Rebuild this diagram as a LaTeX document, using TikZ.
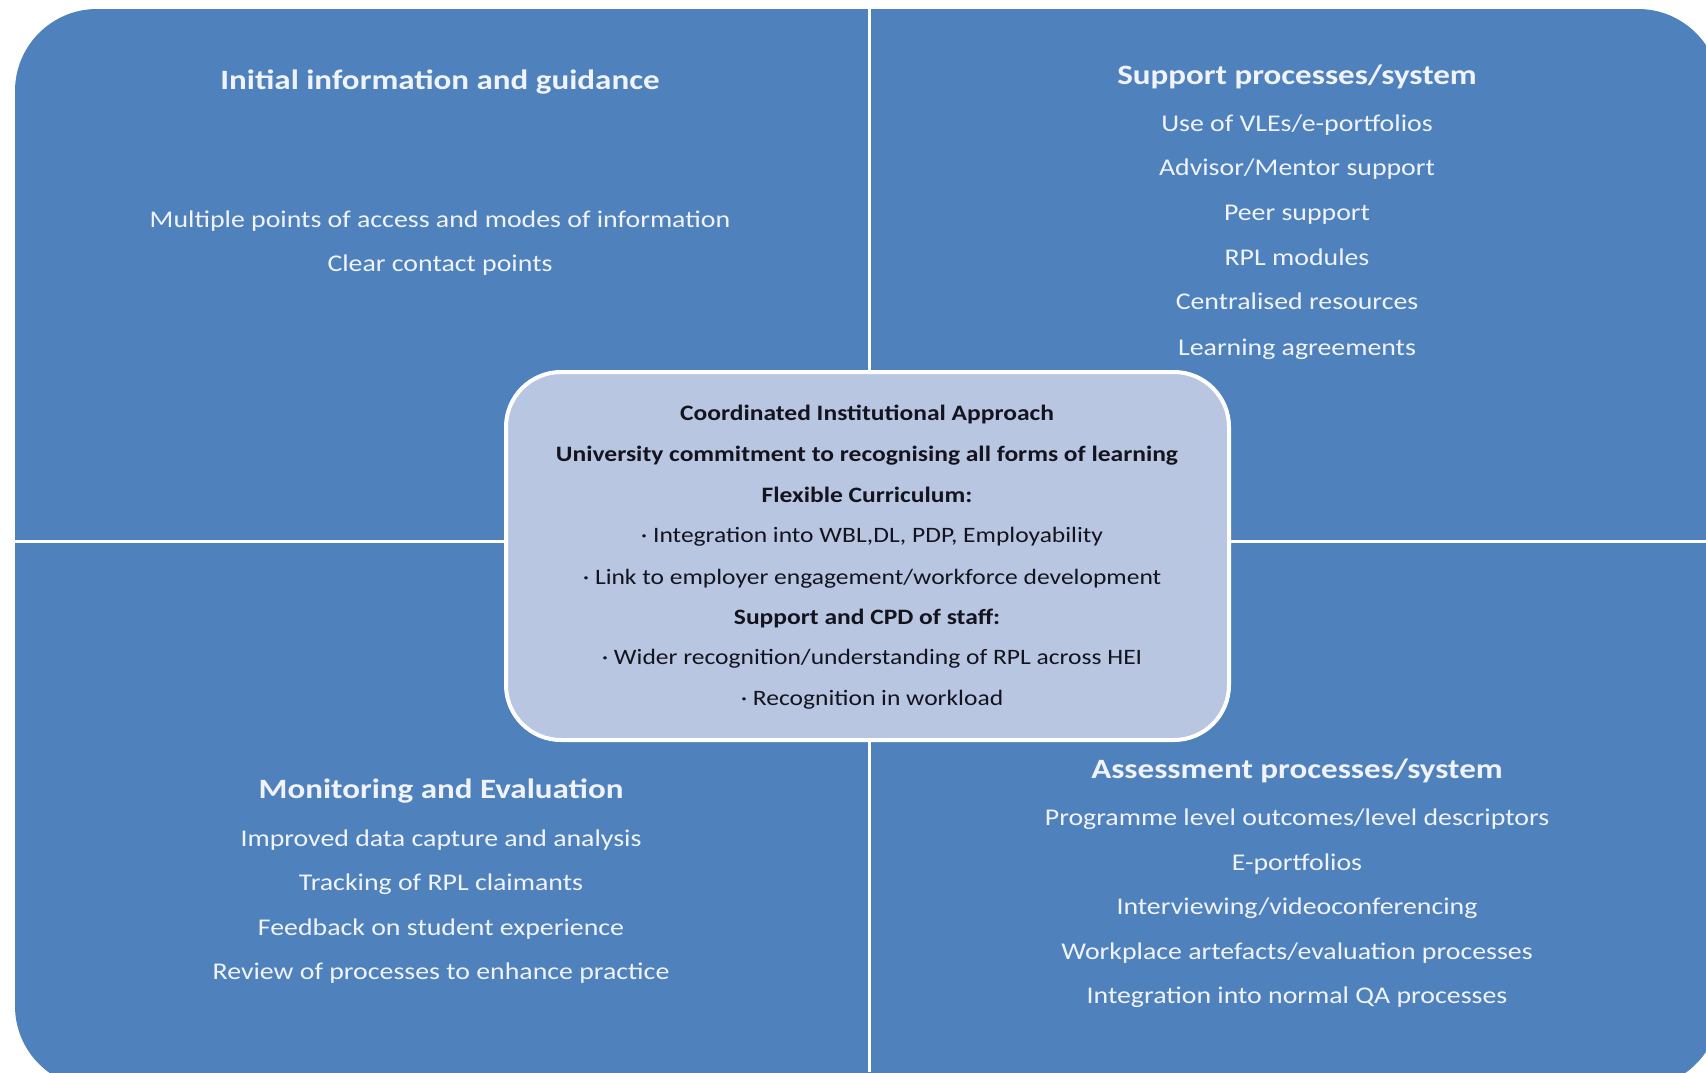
\documentclass[tikz,border=0pt]{standalone}
\usepackage{fontspec}
\setmainfont{Carlito}[FakeStretch=1.16]
\newfontfamily\headfont{Carlito}[FakeStretch=1.18]
\definecolor{qblue}{RGB}{79,129,189}
\definecolor{cfill}{RGB}{184,198,226}
\definecolor{qtext}{RGB}{240,244,250}
\definecolor{ctext}{RGB}{20,20,30}
\begin{document}
\begin{tikzpicture}[x=1pt,y=-1pt,
 qline/.style={text=qtext, font=\fontsize{24}{28}\selectfont, text height=17pt, text depth=5pt, inner sep=0pt},
 qhead/.style={qline, font=\headfont\fontsize{28}{32}\selectfont\bfseries},
 cline/.style={text=ctext, font=\fontsize{22}{26}\selectfont, inner sep=0pt, text height=16pt, text depth=5pt},
 chead/.style={cline, font=\fontsize{22}{26}\selectfont\bfseries}]
\fill[white] (0,0) rectangle (1706,1072);
\useasboundingbox (0,0) rectangle (1706,1072);
\begin{scope}
\clip (0,0) rectangle (1706,1072);
\fill[qblue, rounded corners=82pt] (15,9) rectangle (1720,1088);
\end{scope}
\draw[white, line width=3pt] (869,9) -- (869,1072);
\draw[white, line width=3pt] (15,541) -- (1706,541);
\node[draw=white, line width=4pt, fill=cfill, rounded corners=55pt, minimum width=723pt, minimum height=368pt, inner sep=0pt] (core) at (867.5,556) {};
% top left
\node[qhead] (tlh) at (440,83) {Initial information and guidance};
\node[qline] (tl1) at (440,221) {Multiple points of access and modes of information};
\node[qline] (tl2) at (440,265) {Clear contact points};
% top right
\node[qhead] (trh) at (1297,78) {Support processes/system};
\node[qline] (tr1) at (1297,125) {Use of VLEs/e-portfolios};
\node[qline] (tr2) at (1297,169) {Advisor/Mentor  support};
\node[qline] (tr3) at (1297,214) {Peer support};
\node[qline] (tr4) at (1297,259) {RPL modules};
\node[qline] (tr5) at (1297,303) {Centralised resources};
\node[qline] (tr6) at (1297,349) {Learning agreements};
% bottom left
\node[qhead] (blh) at (441,792) {Monitoring and Evaluation};
\node[qline] (bl1) at (441,840) {Improved data capture and analysis};
\node[qline] (bl2) at (441,884) {Tracking of RPL claimants};
\node[qline] (bl3) at (441,929) {Feedback  on student experience};
\node[qline] (bl4) at (441,973) {Review of processes to enhance practice};
% bottom right
\node[qhead] (brh) at (1297,772) {Assessment processes/system};
\node[qline] (br1) at (1297,819) {Programme level outcomes/level descriptors};
\node[qline] (br2) at (1297,864) {E-portfolios};
\node[qline] (br3) at (1297,908) {Interviewing/videoconferencing};
\node[qline] (br4) at (1297,953) {Workplace artefacts/evaluation processes};
\node[qline] (br5) at (1297,997) {Integration into normal QA processes};
% centre
\node[chead] (c1) at (867,415) {Coordinated Institutional Approach};
\node[chead] (c2) at (867,456) {University commitment to recognising all forms of learning};
\node[chead] (c3) at (867,497) {Flexible Curriculum:};
\node[cline] (c4) at (872,537) {· Integration into WBL,DL, PDP, Employability};
\node[cline] (c5) at (872,579) {· Link to employer engagement/workforce development};
\node[chead] (c6) at (867,619) {Support and CPD of staff:};
\node[cline] (c7) at (872,659) {· Wider recognition/understanding of RPL across HEI};
\node[cline] (c8) at (872,700) {· Recognition in workload};
\end{tikzpicture}
\end{document}
